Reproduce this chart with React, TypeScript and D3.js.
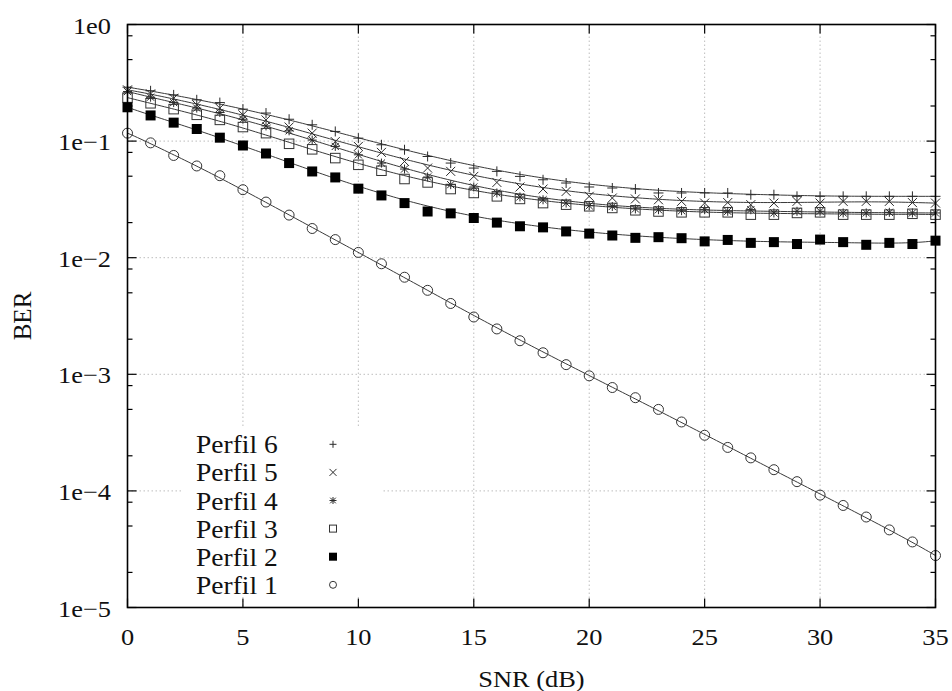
import React from 'react';
import * as d3 from 'd3';

// SNR values (dB) at which BER was simulated
const snr = [0, 1, 2, 3, 4, 5, 6, 7, 8, 9, 10, 11, 12, 13, 14, 15, 16, 17, 18, 19, 20, 21, 22, 23, 24, 25, 26, 27, 28, 29, 30, 31, 32, 33, 34, 35];

const perfil1 = [0.117, 0.0966, 0.0753, 0.0612, 0.0505, 0.0383, 0.0300, 0.0232, 0.0178, 0.0143, 0.0111, 0.00887, 0.0068, 0.00525, 0.00405, 0.0031, 0.00245, 0.00194, 0.00153, 0.00121, 0.00097, 0.00077, 0.00063, 0.0005, 0.00039, 0.0003, 0.000236, 0.000192, 0.000152, 0.00012, 0.000092, 0.000075, 0.0000597, 0.0000463, 0.0000365, 0.0000279];
const perfil2 = [0.195, 0.166, 0.144, 0.127, 0.107, 0.0917, 0.0783, 0.0648, 0.0549, 0.0488, 0.0391, 0.0342, 0.0294, 0.0249, 0.024, 0.0219, 0.020, 0.0186, 0.0182, 0.0168, 0.0161, 0.0155, 0.0148, 0.0150, 0.0147, 0.0138, 0.0142, 0.0134, 0.0136, 0.0131, 0.0143, 0.0136, 0.0129, 0.0134, 0.0131, 0.0140];
const perfil3 = [0.236, 0.211, 0.188, 0.168, 0.152, 0.132, 0.117, 0.0948, 0.085, 0.0715, 0.0626, 0.0557, 0.0473, 0.0442, 0.0388, 0.0359, 0.0336, 0.0319, 0.0294, 0.0285, 0.0276, 0.0267, 0.0255, 0.0249, 0.0245, 0.0245, 0.0245, 0.0234, 0.0234, 0.0242, 0.0245, 0.0234, 0.0234, 0.0234, 0.0238, 0.0234];
const perfil4 = [0.266, 0.238, 0.214, 0.192, 0.176, 0.154, 0.135, 0.1225, 0.102, 0.090, 0.0763, 0.0648, 0.0576, 0.0492, 0.0423, 0.0404, 0.0359, 0.0332, 0.0314, 0.0294, 0.0279, 0.0275, 0.0262, 0.0258, 0.0253, 0.0258, 0.025, 0.0258, 0.0242, 0.025, 0.025, 0.0242, 0.0242, 0.0245, 0.0242, 0.0242];
const perfil5 = [0.275, 0.254, 0.233, 0.205, 0.192, 0.168, 0.152, 0.132, 0.117, 0.099, 0.090, 0.080, 0.0669, 0.0587, 0.055, 0.0498, 0.0442, 0.0404, 0.0388, 0.037, 0.0336, 0.0325, 0.0319, 0.0314, 0.0304, 0.0294, 0.0297, 0.0285, 0.0294, 0.0304, 0.0294, 0.0304, 0.0304, 0.0304, 0.0297, 0.0294];
const perfil6 = [0.29, 0.27, 0.249, 0.226, 0.214, 0.188, 0.174, 0.154, 0.138, 0.121, 0.106, 0.093, 0.0843, 0.0738, 0.0648, 0.0587, 0.055, 0.0498, 0.0466, 0.0437, 0.0404, 0.0396, 0.0388, 0.0359, 0.0359, 0.0359, 0.0359, 0.0347, 0.0347, 0.0336, 0.0336, 0.0336, 0.0336, 0.0336, 0.0336, 0.0336];

const seriesNames = ['Perfil 6', 'Perfil 5', 'Perfil 4', 'Perfil 3', 'Perfil 2', 'Perfil 1'];
const xTicks = [0, 5, 10, 15, 20, 25, 30, 35];
const yTicks = [1, 1e-1, 1e-2, 1e-3, 1e-4, 1e-5];
const yTickLabels = ['1e0', '1e\u22121', '1e\u22122', '1e\u22123', '1e\u22124', '1e\u22125'];
const xLabel = 'SNR (dB)';
const yLabel = 'BER';

type Kind = 'plus' | 'cross' | 'star' | 'box' | 'boxfill' | 'circle';

const series: { name: string; values: number[]; kind: Kind }[] = [
  { name: seriesNames[0], values: perfil6, kind: 'plus' },
  { name: seriesNames[1], values: perfil5, kind: 'cross' },
  { name: seriesNames[2], values: perfil4, kind: 'star' },
  { name: seriesNames[3], values: perfil3, kind: 'box' },
  { name: seriesNames[4], values: perfil2, kind: 'boxfill' },
  { name: seriesNames[5], values: perfil1, kind: 'circle' },
];

const W = 952;
const H = 691;
const left = 127.5;
const right = 935.5;
const top = 24.5;
const bottom = 607.5;
const FONT = '"Liberation Serif", "Times New Roman", serif';
const SX = 1.1;

const x = d3.scaleLinear().domain([0, 35]).range([left, right]);
const y = d3.scaleLog().domain([1e-5, 1]).range([bottom, top]);

// Smoothed trend: Bezier curve using the points (x, log10 BER) as control points
function bezierPath(values: number[]): string {
  const pts = values.map((v, i) => [snr[i], Math.log10(v)]);
  const out: [number, number][] = [];
  const N = 240;
  for (let s = 0; s <= N; s++) {
    const t = s / N;
    let work = pts.map((p) => [p[0], p[1]]);
    for (let k = work.length - 1; k > 0; k--) {
      for (let i = 0; i < k; i++) {
        work[i][0] = work[i][0] * (1 - t) + work[i + 1][0] * t;
        work[i][1] = work[i][1] * (1 - t) + work[i + 1][1] * t;
      }
    }
    out.push([x(work[0][0]), y(Math.pow(10, work[0][1]))]);
  }
  return d3.line()(out) || '';
}

function Marker({ kind, cx, cy, s }: { kind: Kind; cx: number; cy: number; s: number }) {
  const h = s / 2;
  const stroke = '#2a2a2a';
  switch (kind) {
    case 'plus':
      return (
        <path d={`M${cx - h},${cy}H${cx + h}M${cx},${cy - h}V${cy + h}`} stroke={stroke} strokeWidth={1} fill="none" />
      );
    case 'cross':
      return (
        <path d={`M${cx - h},${cy - h}L${cx + h},${cy + h}M${cx - h},${cy + h}L${cx + h},${cy - h}`} stroke={stroke} strokeWidth={1} fill="none" />
      );
    case 'star':
      return (
        <path
          d={`M${cx - h},${cy}H${cx + h}M${cx},${cy - h}V${cy + h}M${cx - h * 0.8},${cy - h * 0.8}L${cx + h * 0.8},${cy + h * 0.8}M${cx - h * 0.8},${cy + h * 0.8}L${cx + h * 0.8},${cy - h * 0.8}`}
          stroke={stroke}
          strokeWidth={1}
          fill="none"
        />
      );
    case 'box':
      return <rect x={cx - h} y={cy - h} width={s} height={s} stroke="#333" strokeWidth={1} fill="none" />;
    case 'boxfill':
      return <rect x={cx - h} y={cy - h} width={s} height={s} fill="#000" />;
    case 'circle':
      return <circle cx={cx} cy={cy} r={h} stroke="#333" strokeWidth={1} fill="none" />;
  }
  return null;
}

const markerSize: Record<Kind, number> = { plus: 10, cross: 9, star: 9, box: 9.5, boxfill: 10, circle: 10 };
const legendSize: Record<Kind, number> = { plus: 7, cross: 7, star: 7, box: 7, boxfill: 8, circle: 7 };

export default function App() {
  const minorTicks: number[] = [];
  for (let e = -5; e < 0; e++) {
    for (const m of [2, 5, 8]) minorTicks.push(m * Math.pow(10, e));
  }
  const gridX = xTicks.filter((t) => t > 0 && t < 35);
  const gridY = yTicks.filter((t) => t < 1 && t > 1e-5);

  const legendX = 196;
  const legendMarkX = 333;
  const legendY0 = 444.3;
  const legendDY = 28.1;

  return (
    <svg width={W} height={H} style={{ position: 'absolute', left: 0, top: 0, background: '#fff' }} fontFamily={FONT}>
      <rect x={0} y={0} width={W} height={H} fill="#fff" />
      {/* grid */}
      <g stroke="#bdbdbd" strokeWidth={1} strokeDasharray="1.5,2.5">
        {gridX.map((t) => (
          <line key={'gx' + t} x1={x(t)} x2={x(t)} y1={top} y2={bottom} />
        ))}
        {gridY.map((t) => (
          <line key={'gy' + t} x1={left} x2={right} y1={y(t)} y2={y(t)} />
        ))}
      </g>
      {/* key background */}
      <rect x={183} y={428} width={200} height={169} fill="#fff" />
      {/* curves */}
      <g fill="none" stroke="#3a3a3a" strokeWidth={1}>
        {series.map((s) => (
          <path key={'l' + s.name} d={bezierPath(s.values)} />
        ))}
      </g>
      {/* points */}
      {series.map((s) => (
        <g key={'m' + s.name}>
          {s.values.map((v, i) => (
            <Marker key={i} kind={s.kind} cx={x(snr[i])} cy={y(v)} s={markerSize[s.kind]} />
          ))}
        </g>
      ))}
      {/* border */}
      <rect x={left} y={top} width={right - left} height={bottom - top} fill="none" stroke="#000" strokeWidth={1.6} />
      {/* ticks */}
      <g stroke="#000" strokeWidth={1.2}>
        {xTicks.map((t) => (
          <g key={'xt' + t}>
            <line x1={x(t)} x2={x(t)} y1={bottom} y2={bottom - 9} />
            <line x1={x(t)} x2={x(t)} y1={top} y2={top + 9} />
          </g>
        ))}
        {yTicks.map((t) => (
          <g key={'yt' + t}>
            <line x1={left} x2={left + 9} y1={y(t)} y2={y(t)} />
            <line x1={right} x2={right - 9} y1={y(t)} y2={y(t)} />
          </g>
        ))}
        {minorTicks.map((t) => (
          <g key={'ym' + t}>
            <line x1={left} x2={left + 5} y1={y(t)} y2={y(t)} />
            <line x1={right} x2={right - 5} y1={y(t)} y2={y(t)} />
          </g>
        ))}
      </g>
      {/* tick labels */}
      <g fontSize={24} fill="#111">
        {xTicks.map((t) => (
          <g key={'xl' + t} transform={`translate(${x(t)},645) scale(${SX},1)`}>
            <text textAnchor="middle">{t}</text>
          </g>
        ))}
        {yTicks.map((t, i) => (
          <g key={'yl' + t} transform={`translate(111,${y(t) + 9}) scale(${SX},1)`}>
            <text textAnchor="end">{yTickLabels[i]}</text>
          </g>
        ))}
      </g>
      {/* axis titles */}
      <g transform={`translate(${(left + right) / 2},687) scale(${SX},1)`}>
        <text textAnchor="middle" fontSize={24} fill="#111">
          {xLabel}
        </text>
      </g>
      <g transform={`translate(31,${(top + bottom) / 2}) rotate(-90)`}>
        <text textAnchor="middle" fontSize={25} fill="#111">
          {yLabel}
        </text>
      </g>
      {/* key */}
      {series.map((s, i) => (
        <g key={'k' + s.name}>
          <g transform={`translate(${legendX},${legendY0 + i * legendDY + 9}) scale(${SX},1)`}>
            <text fontSize={25} fill="#111">
              {s.name}
            </text>
          </g>
          <Marker kind={s.kind} cx={legendMarkX} cy={legendY0 + i * legendDY} s={legendSize[s.kind]} />
        </g>
      ))}
    </svg>
  );
}
